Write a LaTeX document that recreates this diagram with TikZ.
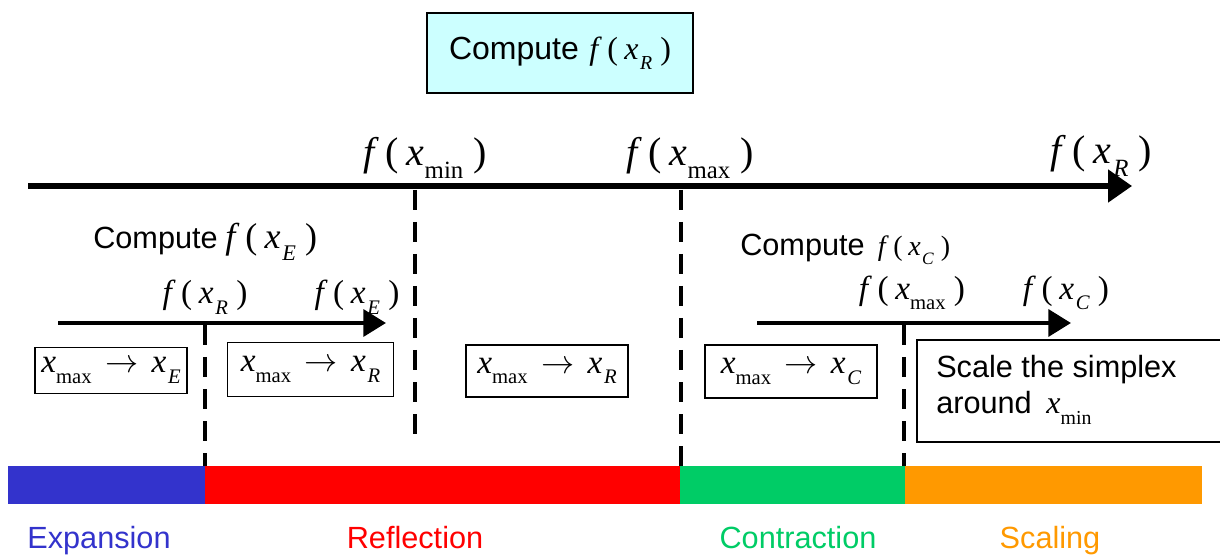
\documentclass[tikz,border=0pt]{standalone}
\usepackage{fontspec}
\usepackage{graphicx}
\setmainfont{Liberation Sans}
\newfontfamily\tms{Liberation Serif}
\usetikzlibrary{arrows.meta}
\newcommand\mi[1]{{\tms\itshape #1}}
\newcommand\xsubu[1]{\mi{x}\raisebox{-0.32em}{\scalebox{0.62}{\tms #1}}}
\newcommand\xsubi[1]{\mi{x}\hspace{0.05em}\raisebox{-0.32em}{\scalebox{0.62}{\tms\itshape #1}}}
\newcommand\fx[1]{\mi{f}\hspace{0.28em}{\tms(}\hspace{0.2em}#1\hspace{0.25em}{\tms)}}
\newcommand\mapto{\hspace{0.4em}$\rightarrow$\hspace{0.4em}}
\definecolor{boxcyan}{RGB}{204,255,255}
\definecolor{cexp}{RGB}{51,51,204}
\definecolor{cref}{RGB}{255,0,0}
\definecolor{ccon}{RGB}{0,204,102}
\definecolor{csca}{RGB}{255,153,0}
\tikzset{
  bigf/.style={font=\fontsize{30}{34}\selectfont, inner sep=0pt},
  midf/.style={font=\fontsize{25}{29}\selectfont, inner sep=0pt},
  axis/.style={line width=3.8pt, -{Triangle[length=18pt,width=24pt]}},
  subaxis/.style={line width=3.4pt, -{Triangle[length=17pt,width=20pt]}},
  dashline/.style={line width=3.2pt, dash pattern=on 15pt off 9pt},
  mbox/.style={draw, line width=0.9pt, inner sep=0pt, font=\fontsize{25}{29}\selectfont},
  bartxt/.style={font=\fontsize{23}{27}\selectfont, inner sep=0pt, anchor=base},
}
\begin{document}
\begin{tikzpicture}[x=0.75pt,y=-0.75pt]
\path[use as bounding box] (0,0) rectangle (1220,559);
% top box
\node[draw, line width=0.9pt, fill=boxcyan, minimum width=199.5pt, minimum height=60pt, font=\fontsize{24}{28}\selectfont] (top) at (560,53) {Compute \hspace{0.05em}\fx{\xsubi{R}}};
% main axis
\coordinate (a0) at (28,186);
\coordinate (a1) at (1132,186);
\draw[axis] (a0) -- (a1);
\node[bigf] (lmin) at (425,158) {\fx{\xsubu{min}}};
\node[bigf] (lmax) at (690,158) {\fx{\xsubu{max}}};
\node[bigf] (lr) at (1101,156) {\fx{\xsubi{R}}};
% dashed verticals
\coordinate (d1t) at (415,190); \coordinate (d1b) at (415,442);
\coordinate (d2t) at (681,190); \coordinate (d2b) at (681,466);
\draw[dashline] (d1t) -- (d1b);
\draw[dashline] (d2t) -- (d2b);
% expansion sub-axis
\node[anchor=west, inner sep=0pt, font=\fontsize{23}{27}\selectfont] (ce) at (93,242) {Compute\hspace{0.25em}{\fontsize{27}{30}\selectfont\fx{\xsubi{E}}}};
\coordinate (e0) at (58,323);
\coordinate (e1) at (386,323);
\draw[subaxis] (e0) -- (e1);
\node[midf] (ler) at (205,297) {\fx{\xsubi{R}}};
\node[midf] (lee) at (357,297) {\fx{\xsubi{E}}};
\coordinate (d3t) at (205,325); \coordinate (d3b) at (205,466);
\draw[dashline] (d3t) -- (d3b);
% contraction sub-axis
\node[anchor=west, inner sep=0pt, font=\fontsize{23}{27}\selectfont] (cc) at (740,249) {Compute \hspace{0.15em}{\fontsize{21}{25}\selectfont\fx{\xsubi{C}}}};
\coordinate (c0) at (757,323);
\coordinate (c1) at (1071,323);
\draw[subaxis] (c0) -- (c1);
\node[midf] (lcm) at (912,293) {\fx{\xsubu{max}}};
\node[midf] (lcc) at (1066,293) {\fx{\xsubi{C}}};
\coordinate (d4t) at (904,325); \coordinate (d4b) at (904,466);
\draw[dashline] (d4t) -- (d4b);
% boxes
\node[mbox, minimum width=114pt, minimum height=35pt] (b1) at (111,370.5) {\xsubu{max}\mapto\xsubi{E}};
\node[mbox, minimum width=124pt, minimum height=40pt] (b2) at (310.5,369.5) {\xsubu{max}\mapto\xsubi{R}};
\node[mbox, minimum width=121.5pt, minimum height=39pt] (b3) at (547,371) {\xsubu{max}\mapto\xsubi{R}};
\node[mbox, minimum width=129pt, minimum height=39.75pt] (b4) at (791,371.5) {\xsubu{max}\mapto\xsubi{C}};
\node[draw, line width=0.9pt, minimum width=228pt, minimum height=76.5pt, inner sep=0pt] (b5) at (1069,391) {};
\node[anchor=west, inner sep=0pt, font=\fontsize{23}{27}\selectfont] (s1) at (936,370) {Scale the simplex};
\node[anchor=west, inner sep=0pt, font=\fontsize{23}{27}\selectfont] (s2) at (936,408) {around \hspace{0.2em}{\fontsize{24}{28}\selectfont\xsubu{min}}};
% colour bar
\fill[cexp] (8,466) rectangle (205,504);
\fill[cref] (205,466) rectangle (680,504);
\fill[ccon] (680,466) rectangle (905,504);
\fill[csca] (905,466) rectangle (1202,504);
\node[bartxt, text=cexp] (lexp) at (99,548) {Expansion};
\node[bartxt, text=cref] (lref) at (415,548) {Reflection};
\node[bartxt, text=ccon] (lcon) at (798,548) {Contraction};
\node[bartxt, text=csca] (lsca) at (1050,548) {Scaling};
\end{tikzpicture}
\end{document}
